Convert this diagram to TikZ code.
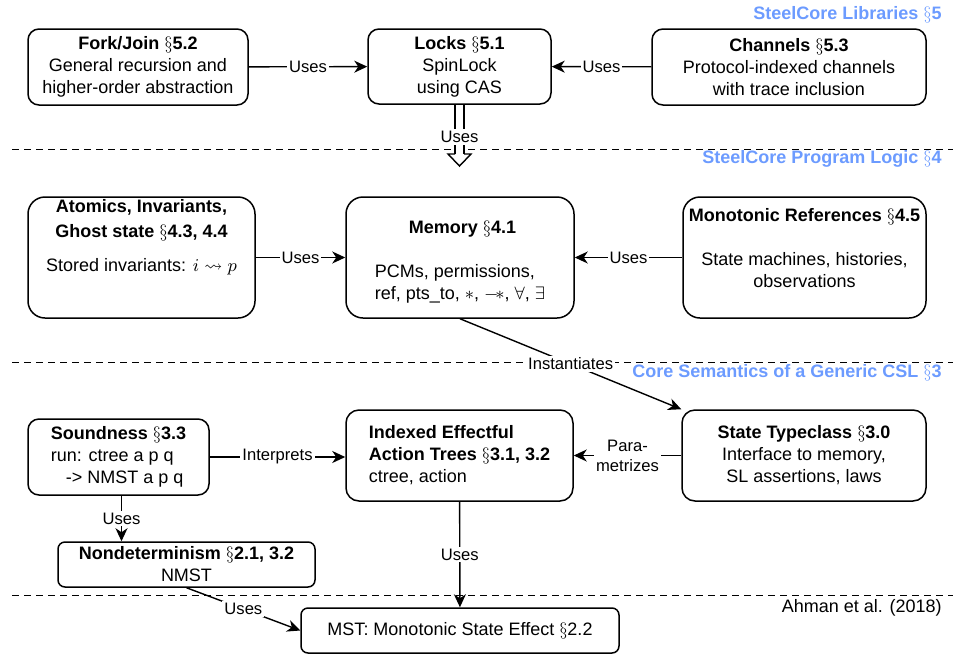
\documentclass[tikz,border=0pt]{standalone}
\usepackage{fontspec}
\setmainfont{Liberation Sans}
\usepackage{amssymb}
\usetikzlibrary{arrows.meta, positioning}
\definecolor{secblue}{RGB}{108,155,255}

\begin{document}
\begin{tikzpicture}[x=0.5pt, y=-0.5pt,
  box/.style={draw, line width=0.75pt, rounded corners=5.5pt, inner sep=0pt, align=center, font=\fontsize{9}{11}\selectfont},
  lbl/.style={fill=white, inner sep=1pt, font=\fontsize{8.3}{10}\selectfont},
  sect/.style={anchor=east, inner sep=0pt, text=secblue, font=\bfseries\fontsize{9}{11}\selectfont},
  uses/.style={-{Stealth[length=6.5pt, width=6pt, inset=2pt]}, line width=0.7pt},
  layerline/.style={line width=0.5pt, dash pattern=on 3.5pt off 2.5pt}]
  \useasboundingbox (0,0) rectangle (953,654);

  \draw[layerline] (12,149) -- (953,149);
  \draw[layerline] (12,362) -- (953,362);
  \draw[layerline] (12,595) -- (953,595);

  \node[sect] (libs) at (942,15) {SteelCore Libraries $\S$5};
  \node[sect] (logic) at (942,159) {SteelCore Program Logic $\S$4};
  \node[sect] (core) at (942,373) {Core Semantics of a Generic CSL $\S$3};
  \node[anchor=east, inner sep=0pt, font=\fontsize{9}{11}\selectfont] (ahman) at (942,608) {Ahman et al. (2018)};

  \node[box, minimum width=110pt, minimum height=38pt] (fork) at (138,67) {\textbf{Fork/Join $\S$5.2}\\General recursion and\\higher-order abstraction};
  \node[box, minimum width=91.5pt, minimum height=37.5pt] (locks) at (459.5,66.5) {\textbf{Locks $\S$5.1}\\SpinLock\\using CAS};
  \node[box, minimum width=137pt, minimum height=38pt] (chan) at (789,67) {\textbf{Channels $\S$5.3}\\Protocol-indexed channels\\with trace inclusion};

  \node[box, rounded corners=8.5pt, minimum width=113.5pt, minimum height=60.5pt] (atom) at (141.5,257.5) {\textbf{Atomics, Invariants,}\\[1.5pt]\textbf{Ghost state $\S$4.3, 4.4}\\[6pt]Stored invariants: $i \rightsquigarrow p$\\[11pt]\mbox{}};
  \node[box, rounded corners=8.5pt, minimum width=114pt, minimum height=60.5pt, align=left] (mem) at (460,257.5) {\hspace*{17pt}\rule{0pt}{10.5pt}\textbf{Memory $\S$4.1}\\[11pt]PCMs, permissions,\\ref, pts\_to, $*$, $-\!*$, $\forall$, $\exists$};
  \node[box, rounded corners=8.5pt, minimum width=121.5pt, minimum height=60.5pt] (mono) at (804.5,257.5) {\textbf{Monotonic References $\S$4.5}\\[11pt]State machines, histories,\\observations\\[-1pt]\mbox{}};

  \node[box, minimum width=90.5pt, minimum height=38pt, align=left] (sound) at (118.5,457) {\textbf{Soundness $\S$3.3}\\run: ctree a p q\\\hspace*{7.5pt}-> NMST a p q};
  \node[box, rounded corners=6.5pt, minimum width=113.5pt, minimum height=45.5pt, align=left] (ieat) at (459.5,455.5) {\textbf{Indexed Effectful}\\\textbf{Action Trees $\S$3.1, 3.2}\\ctree, action};
  \node[box, rounded corners=6.5pt, minimum width=122pt, minimum height=45.5pt] (stc) at (804,455.5) {\textbf{State Typeclass $\S$3.0}\\Interface to memory,\\SL assertions, laws};
  \node[box, rounded corners=3.5pt, minimum width=128.5pt, minimum height=22.5pt] (nondet) at (186.5,564.5) {\textbf{Nondeterminism $\S$2.1, 3.2}\\NMST};
  \node[box, rounded corners=3.5pt, minimum width=159pt, minimum height=22.5pt] (mst) at (460,630.5) {MST: Monotonic State Effect $\S$2.2};

  \draw[uses] (fork) -- node[lbl]{Uses} (locks);
  \draw[uses] (chan) -- node[lbl]{Uses} (locks);
  \coordinate (lkend) at (459.5,154);
  \draw[line width=0.7pt, double, double distance=3.85pt] (locks.south) -- node[lbl, pos=0.66]{Uses} (lkend);
  \draw[line width=0.7pt] ([xshift=-2.25pt]lkend) -- ([xshift=-5.75pt]lkend) -- ([yshift=-6pt]lkend) -- ([xshift=5.75pt]lkend) -- ([xshift=2.25pt]lkend);

  \draw[uses] (atom) -- node[lbl]{Uses} (mem);
  \draw[uses] (mono) -- node[lbl]{Uses} (mem);
  \draw[uses] (mem.south) -- node[lbl]{Instantiates} (stc.north west);

  \draw[uses] (sound.east) -- node[lbl]{Interprets} (sound.east -| ieat.west);
  \draw[uses] (stc) -- node[lbl, align=center]{Para-\\metrizes} (ieat);
  \draw[uses] ([xshift=1.5pt]sound.south) -- node[lbl]{Uses} ([xshift=1.5pt]sound.south |- nondet.north);
  \draw[uses] (ieat) -- node[lbl]{Uses} (mst);
  \draw[uses] (nondet.south) -- node[lbl]{Uses} (mst.west);
\end{tikzpicture}
\end{document}
